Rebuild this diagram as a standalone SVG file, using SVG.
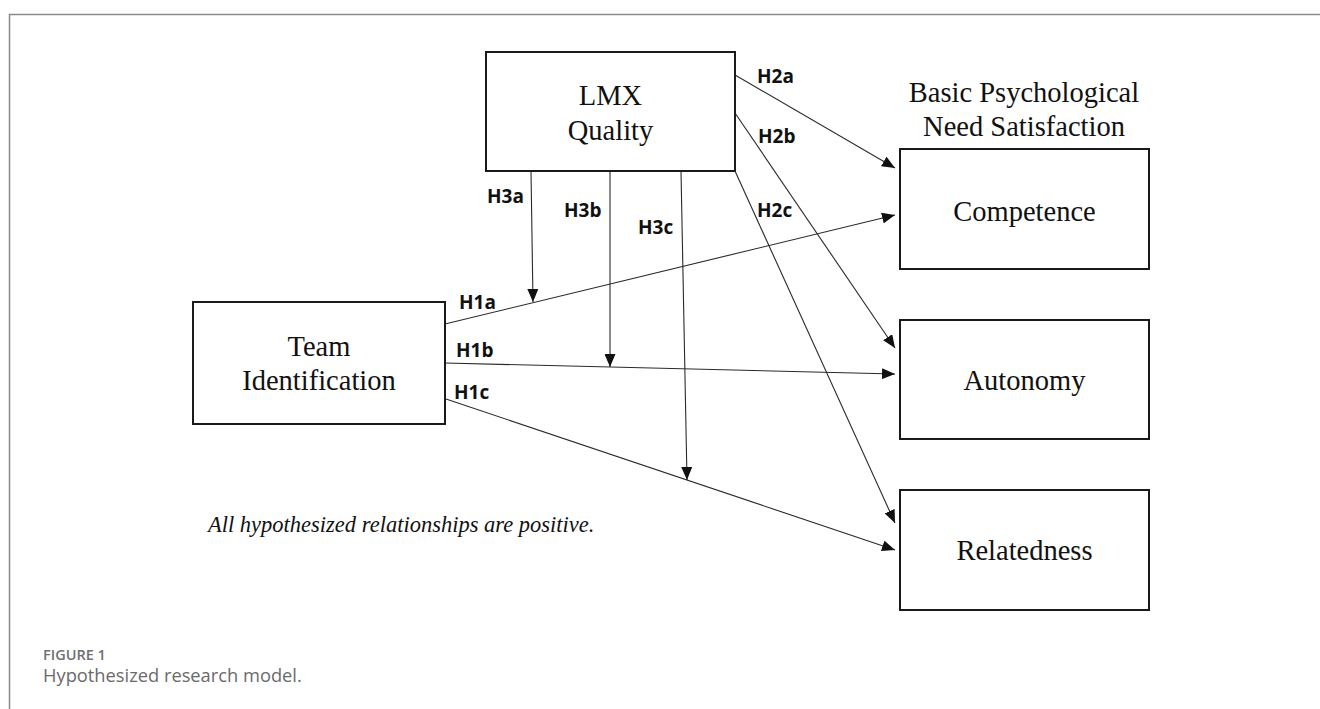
<svg xmlns="http://www.w3.org/2000/svg" width="1320" height="709" viewBox="0 0 1320 709">
<style>
.box{fill:#fff;stroke:#1a1a1a;stroke-width:2}
.nt{font-family:"Liberation Serif","Times New Roman",serif;font-size:28.5px;fill:#111;text-anchor:middle}
.lbl{font-family:"Open Sans","Liberation Sans",sans-serif;font-weight:bold;font-size:19px;fill:#111}
.con{stroke:#2a2a2a;stroke-width:1.1;fill:none;marker-end:url(#ah)}
.frame{stroke:#8a8a8a;stroke-width:1.5;fill:none}
</style>
<defs>
<marker id="ah" markerUnits="userSpaceOnUse" markerWidth="13" markerHeight="11" viewBox="0 0 13 11" refX="13" refY="5.5" orient="auto">
<path d="M0,0 L13,5.5 L0,11 z" fill="#111"/>
</marker>
</defs>
<rect width="1320" height="709" fill="#fff"/>
<path class="frame" d="M9.5,709 V14.5 H1320"/>

<g id="connectors">
<line class="con" x1="735" y1="75" x2="895" y2="168"/>
<line class="con" x1="735" y1="113" x2="895" y2="348"/>
<line class="con" x1="735" y1="171" x2="895" y2="523"/>
<line class="con" x1="445" y1="324" x2="895" y2="215"/>
<line class="con" x1="445" y1="363" x2="895" y2="374"/>
<line class="con" x1="446" y1="399" x2="895" y2="550"/>
<line class="con" x1="531" y1="171" x2="533" y2="302"/>
<line class="con" x1="610" y1="171" x2="610" y2="367"/>
<line class="con" x1="681" y1="171" x2="687" y2="480"/>
</g>

<g id="labels">
<text class="lbl" x="757" y="83">H2a</text>
<text class="lbl" x="758" y="143">H2b</text>
<text class="lbl" x="757" y="217">H2c</text>
<text class="lbl" x="487" y="203">H3a</text>
<text class="lbl" x="564" y="217">H3b</text>
<text class="lbl" x="638" y="234">H3c</text>
<text class="lbl" x="459" y="309">H1a</text>
<text class="lbl" x="456" y="357">H1b</text>
<text class="lbl" x="454" y="399">H1c</text>
</g>

<g id="lmx">
<rect class="box" x="486" y="52" width="249" height="119"/>
<text class="nt" x="610.5" y="105">LMX</text>
<text class="nt" x="610.5" y="140">Quality</text>
</g>

<g id="team">
<rect class="box" x="193" y="302" width="252" height="122"/>
<text class="nt" x="319" y="356">Team</text>
<text class="nt" x="319" y="390">Identification</text>
</g>

<g id="bpns">
<text class="nt" x="1024" y="102">Basic Psychological</text>
<text class="nt" x="1024" y="136">Need Satisfaction</text>
</g>

<g id="competence">
<rect class="box" x="900" y="149" width="249" height="120"/>
<text class="nt" x="1024.5" y="221">Competence</text>
</g>

<g id="autonomy">
<rect class="box" x="900" y="320" width="249" height="119"/>
<text class="nt" x="1024.5" y="390">Autonomy</text>
</g>

<g id="relatedness">
<rect class="box" x="900" y="490" width="249" height="120"/>
<text class="nt" x="1024.5" y="560">Relatedness</text>
</g>

<text x="208" y="532" font-family="Liberation Serif, Times New Roman, serif" font-style="italic" font-size="22.5" fill="#111">All hypothesized relationships are positive.</text>

<text x="43" y="660" font-family="Open Sans, Liberation Sans, sans-serif" font-weight="600" font-size="14.5" fill="#707070">FIGURE 1</text>
<text x="43" y="682" font-family="Open Sans, Liberation Sans, sans-serif" font-size="18.3" fill="#6a6a6a">Hypothesized research model.</text>
</svg>
